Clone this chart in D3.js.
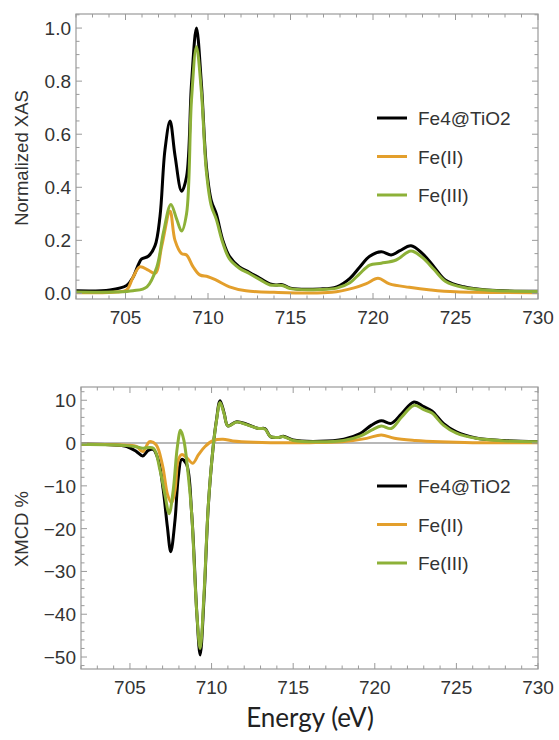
<!DOCTYPE html>
<html>
<head>
<meta charset="utf-8">
<script src="https://cdn.jsdelivr.net/npm/d3@7"></script>
<style>
  body { margin: 0; background: #fff; }
  svg text { font-family: "Liberation Sans", Arial, sans-serif; }
</style>
</head>
<body>
<div id="chart"></div>
<script>
// ---- data ----
const seriesNames = ["Fe4@TiO2", "Fe(II)", "Fe(III)"];
const seriesColors = ["#000000", "#E39F2C", "#8DB138"];

// XAS, energy (eV) / normalized intensity
const xasFe4 = [[702,0.01],[704.06,0.013],[705.07,0.03],[705.45,0.06],[705.77,0.107],[705.98,0.13],[706.38,0.14],
  [706.79,0.18],[707.09,0.29],[707.39,0.54],[707.7,0.65],[708.0,0.52],[708.4,0.385],[708.7,0.44],[709.0,0.79],
  [709.3,1.0],[709.6,0.79],[709.9,0.48],[710.2,0.35],[710.5,0.30],[710.9,0.2],[711.3,0.14],[711.9,0.10],
  [712.5,0.08],[713.15,0.057],[713.76,0.036],[714.1,0.032],[714.5,0.033],[715,0.02],[716.8,0.017],[717.8,0.025],
  [718.6,0.057],[719.2,0.1],[719.8,0.14],[720.5,0.157],[721.1,0.145],[721.6,0.16],[722.3,0.18],[723.0,0.15],
  [723.7,0.1],[724.4,0.05],[725.5,0.025],[726.9,0.013],[730,0.008]];
const xasFe2 = [[702,0.003],[704.5,0.005],[705.07,0.013],[705.45,0.06],[705.87,0.1],[706.38,0.088],[706.8,0.076],
  [707.2,0.18],[707.7,0.31],[708.0,0.2],[708.4,0.15],[708.7,0.145],[709.1,0.1],[709.5,0.07],[710.0,0.063],
  [710.5,0.05],[711.3,0.025],[712.3,0.01],[714,0.004],[717.5,0.004],[718.8,0.02],[719.6,0.037],[720.3,0.057],
  [721.0,0.036],[722.2,0.023],[723.5,0.013],[725,0.006],[730,0.003]];
const xasFe3 = [[702,0.005],[705.45,0.01],[706.3,0.025],[706.9,0.1],[707.3,0.23],[707.75,0.335],[708.1,0.28],
  [708.4,0.235],[708.7,0.3],[709.0,0.73],[709.3,0.93],[709.6,0.76],[709.9,0.46],[710.2,0.33],[710.5,0.28],
  [710.9,0.19],[711.3,0.13],[711.9,0.095],[712.5,0.075],[713.15,0.052],[713.76,0.032],[714.5,0.03],[715,0.018],
  [716.8,0.015],[717.8,0.02],[718.6,0.04],[719.2,0.075],[719.8,0.107],[720.5,0.114],[721.4,0.126],[722.3,0.16],
  [723.0,0.135],[723.7,0.09],[724.4,0.045],[725.5,0.022],[727,0.012],[730,0.007]];

// XMCD, energy (eV) / percent
const xmcdFe4 = [[702,-0.3],[703.78,-0.4],[704.8,-0.8],[705.4,-2],[705.78,-3],[706.12,-1.7],[706.43,-1.5],
  [706.74,-4],[707.04,-11],[707.29,-19.5],[707.5,-25.4],[707.76,-18],[707.96,-8],[708.17,-3.8],[708.47,-5],
  [708.78,-16.4],[709.1,-40],[709.3,-49.5],[709.54,-36],[709.8,-14.7],[710.1,-0.8],[710.3,5.4],[710.52,9.9],
  [710.77,7],[711.0,4],[711.54,5.0],[712.15,4.4],[712.87,3.4],[713.27,3.4],[713.6,1.5],[714.1,1.3],[714.4,1.6],
  [715.0,0.7],[716.6,0.4],[718.1,0.9],[719.1,2.2],[719.8,4.2],[720.4,5.2],[721.0,4.6],[721.65,6.9],[722.4,9.6],
  [723.0,8.5],[723.5,7.5],[724.2,4.6],[725.0,2.6],[726.2,1.2],[727.9,0.6],[730,0.3]];
const xmcdFe2 = [[702,-0.3],[704.8,-0.5],[705.4,-0.8],[705.78,-2],[706.2,0.3],[706.6,-0.4],[707.0,-5.3],
  [707.3,-12],[707.55,-14],[707.76,-11],[707.96,-3.9],[708.17,-2.7],[708.47,-3.4],[708.85,-4.7],[709.2,-2.7],
  [709.6,-0.8],[710.1,0.6],[710.7,0.9],[711.3,0.5],[712.6,0.2],[716,0.1],[718,0.3],[719.5,1.1],[720.4,1.9],
  [721.2,1.1],[722.5,0.6],[724,0.3],[726,0.1],[730,0.1]];
const xmcdFe3 = [[702,-0.3],[704.8,-0.6],[705.4,-0.9],[705.78,-1.2],[706.43,-1.2],[706.84,-6.3],[707.14,-12],
  [707.4,-16.5],[707.65,-11],[707.9,-1],[708.1,3],[708.3,0.7],[708.6,-8.6],[708.78,-16.4],[709.1,-40],[709.3,-48],
  [709.54,-35],[709.8,-14.5],[710.1,-0.8],[710.3,5.2],[710.52,9.5],[710.77,6.8],[711.0,4],[711.54,4.9],
  [712.15,4.3],[712.87,3.4],[713.27,3.3],[713.6,1.5],[714.1,1.3],[714.4,1.5],[715.0,0.6],[716.6,0.3],[718.1,0.6],
  [719.1,1.6],[719.8,3.0],[720.4,4.0],[721.0,3.4],[721.65,6.1],[722.4,8.8],[723.0,7.8],[723.5,7.0],[724.2,4.2],
  [725.0,2.3],[726.2,1.1],[728,0.5],[730,0.3]];

const xTicks = [705, 710, 715, 720, 725, 730];
const xasTicks = [0, 0.2, 0.4, 0.6, 0.8, 1.0];
const xmcdTicks = [10, 0, -10, -20, -30, -40, -50];

// ---- drawing ----
const W = 559, H = 740;
const svg = d3.select("#chart").append("svg").attr("width", W).attr("height", H);

const frameColor = "#9a9a9a";
const labelColor = "#333333";

function drawPanel(cfg) {
	const x = d3.scaleLinear().domain([702, 730]).range([cfg.left, cfg.right]);
	const y = d3.scaleLinear().domain(cfg.yDomain).range([cfg.bottom, cfg.top]);
	const g = svg.append("g");

	// zero line (XMCD only)
	if (cfg.zeroLine) {
		g.append("line")
			.attr("x1", cfg.left).attr("x2", cfg.right)
			.attr("y1", y(0)).attr("y2", y(0))
			.attr("stroke", "#a0a0a0").attr("stroke-width", 1.5);
	}

	const line = d3.line()
		.x(d => x(d[0]))
		.y(d => y(d[1]))
		.curve(d3.curveCatmullRom.alpha(0.5));

	// draw order: orange, green, black under? reference shows green on top of black
	const order = [0, 1, 2];
	order.forEach(i => {
		g.append("path")
			.datum(cfg.series[i])
			.attr("fill", "none")
			.attr("stroke", seriesColors[i])
			.attr("stroke-width", 3)
			.attr("stroke-linejoin", "round")
			.attr("d", line);
	});

	// frame
	g.append("rect")
		.attr("x", cfg.left).attr("y", cfg.top)
		.attr("width", cfg.right - cfg.left).attr("height", cfg.bottom - cfg.top)
		.attr("fill", "none").attr("stroke", frameColor).attr("stroke-width", 1.2);

	// ticks on all four sides, pointing inward
	const minorX = d3.range(702, 730.01, 1);
	minorX.forEach(v => {
		const len = v % 5 === 0 ? 6 : 3.5;
		g.append("line").attr("x1", x(v)).attr("x2", x(v))
			.attr("y1", cfg.bottom).attr("y2", cfg.bottom - len)
			.attr("stroke", frameColor);
		g.append("line").attr("x1", x(v)).attr("x2", x(v))
			.attr("y1", cfg.top).attr("y2", cfg.top + len)
			.attr("stroke", frameColor);
	});
	const yMinor = d3.range(cfg.yMinor[0], cfg.yMinor[1] + 1e-9, cfg.yMinor[2]);
	yMinor.forEach(v => {
		const isMajor = cfg.yTicks.some(t => Math.abs(t - v) < 1e-6);
		const len = isMajor ? 6 : 3.5;
		g.append("line").attr("x1", cfg.left).attr("x2", cfg.left + len)
			.attr("y1", y(v)).attr("y2", y(v)).attr("stroke", frameColor);
		g.append("line").attr("x1", cfg.right).attr("x2", cfg.right - len)
			.attr("y1", y(v)).attr("y2", y(v)).attr("stroke", frameColor);
	});

	// tick labels
	g.selectAll(".xl").data(xTicks).enter().append("text")
		.attr("x", d => x(d)).attr("y", cfg.bottom + 25)
		.attr("text-anchor", "middle")
		.attr("font-size", 19).attr("fill", labelColor)
		.text(d => d);
	g.selectAll(".yl").data(cfg.yTicks).enter().append("text")
		.attr("x", cfg.left - 5).attr("y", d => y(d) + 7)
		.attr("text-anchor", "end")
		.attr("font-size", 19).attr("fill", labelColor)
		.text(cfg.yFormat);

	// y title
	g.append("text")
		.attr("transform", `translate(${28},${cfg.titleY}) rotate(-90)`)
		.attr("text-anchor", "middle")
		.attr("font-size", 18.5).attr("fill", labelColor)
		.text(cfg.yTitle);

	// legend
	seriesNames.forEach((name, i) => {
		const ly = cfg.legendY + i * 38.5;
		g.append("line")
			.attr("x1", 377).attr("x2", 407)
			.attr("y1", ly).attr("y2", ly)
			.attr("stroke", seriesColors[i]).attr("stroke-width", 3);
		g.append("text")
			.attr("x", 418).attr("y", ly + 7)
			.attr("font-size", 19).attr("fill", labelColor)
			.text(name);
	});
}

drawPanel({
	left: 76, right: 538, top: 14, bottom: 299,
	yDomain: [-0.021, 1.053],
	yTicks: xasTicks, yMinor: [0, 1.05, 0.05],
	yFormat: d => d.toFixed(1),
	yTitle: "Normalized XAS", titleY: 158,
	series: [xasFe4, xasFe2, xasFe3],
	legendY: 118
});

drawPanel({
	left: 81, right: 538, top: 387, bottom: 669,
	yDomain: [-52.8, 13.1],
	yTicks: xmcdTicks, yMinor: [-52, 12, 2],
	yFormat: d => d < 0 ? "\u2212" + Math.abs(d) : d,
	yTitle: "XMCD %", titleY: 529,
	series: [xmcdFe4, xmcdFe2, xmcdFe3],
	zeroLine: true,
	legendY: 486
});

svg.append("text")
	.attr("x", 310).attr("y", 727)
	.attr("text-anchor", "middle")
	.attr("font-family", "Lato, 'Open Sans', sans-serif")
	.style("font-family", "Lato, 'Open Sans', sans-serif")
	.attr("font-size", 26).attr("fill", "#222")
	.text("Energy (eV)");
</script>
</body>
</html>
